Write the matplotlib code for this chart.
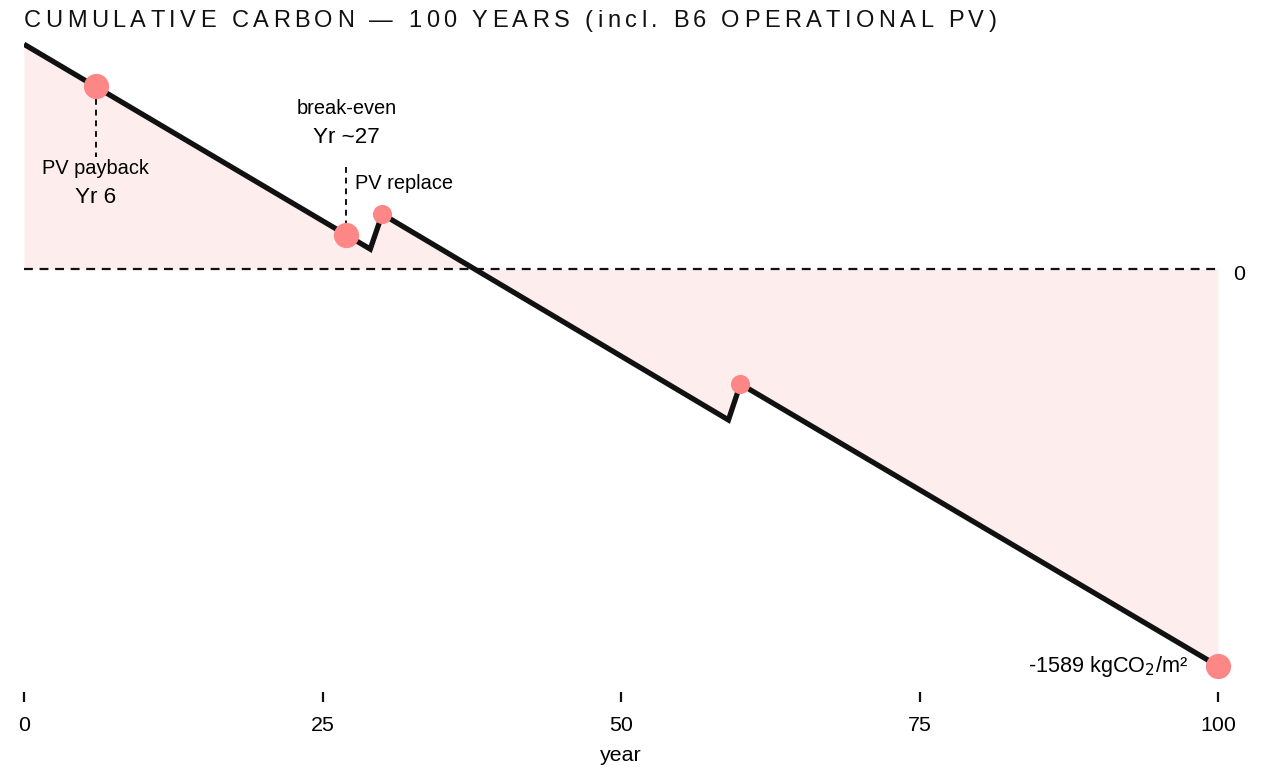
import matplotlib
matplotlib.use("Agg")
import matplotlib.pyplot as plt
import numpy as np

plt.rcParams['font.family'] = ['Liberation Sans', 'DejaVu Sans']

# ---- data ----
years = [0, 29, 30, 59, 60, 100]
cumulative = [900, 80, 220, -604, -460, -1589]

big_marker_years = [6, 27, 100]
big_marker_values = [732, 136, -1589]
small_marker_years = [30, 60]
small_marker_values = [220, -460]

xticks = [0, 25, 50, 75, 100]
title = "CUMULATIVE CARBON \u2014 100 YEARS (incl. B6 OPERATIONAL PV)"

LINE = '#111111'
FILL = '#fdeded'
MARK = '#fd8787'

W, H = 1278, 770
fig = plt.figure(figsize=(W / 100, H / 100), dpi=100)

left, bottom = 24 / W, (H - 692) / H
ax = fig.add_axes([left, bottom, 1194 / W, (692 - 30) / H])
ax.set_xlim(0, 100)
ax.set_ylim(-1693, 957)

ax.fill_between(years, cumulative, 0, color=FILL, lw=0, zorder=1)
ax.axhline(0, color=LINE, lw=1.6, ls=(0, (4, 3)), zorder=2)
ax.plot(years, cumulative, color=LINE, lw=3.8, solid_capstyle='butt',
        solid_joinstyle='miter', zorder=3)
ax.scatter(big_marker_years, big_marker_values, s=330, color=MARK, lw=0,
           zorder=4, clip_on=False)
ax.scatter(small_marker_years, small_marker_values, s=190, color=MARK, lw=0,
           zorder=4, clip_on=False)

# annotations
ax.plot([6, 6], [680, 450], color=LINE, lw=1.4, ls=(0, (3, 2.5)), zorder=2)
ax.text(6, 404, "PV payback", ha='center', va='center', fontsize=14.4)
ax.text(6, 288, "Yr 6", ha='center', va='center', fontsize=16.2)

ax.plot([27, 27], [410, 180], color=LINE, lw=1.4, ls=(0, (3, 2.5)), zorder=2)
ax.text(27, 644, "break-even", ha='center', va='center', fontsize=14.4)
ax.text(27, 528, "Yr ~27", ha='center', va='center', fontsize=16.2)
ax.text(27.7, 344, "PV replace", ha='left', va='center', fontsize=14.4)

ax.text(97.5, -1589, "-1589 kgCO$_2$/m\u00b2", ha='right', va='center', fontsize=15.6)
ax.text(101.8, -20, "0", ha='center', va='center', fontsize=15.4, clip_on=False)

for s in ax.spines.values():
    s.set_visible(False)
ax.set_yticks([])
ax.set_xticks(xticks)
ax.set_xticklabels([str(t) for t in xticks], fontsize=15.4)
ax.tick_params(axis='x', direction='out', length=7.5, width=1.6, color=LINE, pad=9.8)
ax.set_xlabel("year", fontsize=15.4, labelpad=8)

# letter-spaced title
renderer = fig.canvas.get_renderer()
fs = 17
track = 4.4
x = 24
for ch in title:
    t = fig.text(x / W, 1 - 21 / H, ch, fontsize=fs, va='center', ha='left', color='#111111')
    if ch == ' ':
        a = fig.text(0, 0, "a a", fontsize=fs); b = fig.text(0, 0, "aa", fontsize=fs)
        w = a.get_window_extent(renderer).width - b.get_window_extent(renderer).width
        a.remove(); b.remove()
    else:
        w = t.get_window_extent(renderer).width
    x += w + track

fig.savefig("out.png", dpi=100)
